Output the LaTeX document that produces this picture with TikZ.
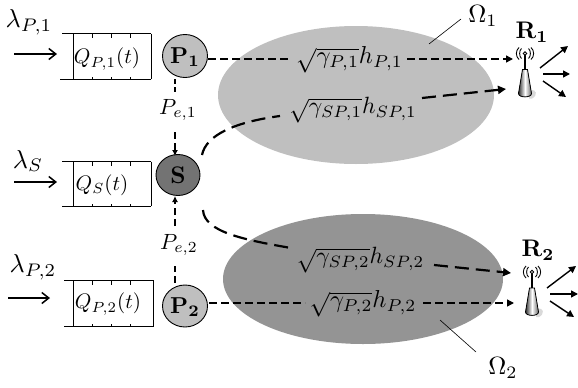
\documentclass[tikz,border=0pt]{standalone}
\usetikzlibrary{arrows.meta,calc}
\newcommand{\antenna}[1]{%
  \begin{scope}[shift={(#1)}]
    \fill[black!15] (5,21) .. controls (12,19) and (13,26) .. (7,29) -- (4,29) -- cycle;
    \draw[line width=1.4pt] (0,-16) -- (0,0);
    \fill[left color=black!80,right color=black!60,middle color=white,draw=black,line width=.8pt]
      (-2.5,0) -- (2.5,0) -- (6.5,24) .. controls (6.5,28.5) and (-6.5,28.5) .. (-6.5,24) -- cycle;
    \fill[white,draw=black,line width=.8pt] (0,-16) circle (1.8);
    \draw[line width=.9pt] (-3.5,-21) .. controls (-6,-19) and (-6,-13) .. (-3.5,-11);
    \draw[line width=.9pt] (3.5,-21) .. controls (6,-19) and (6,-13) .. (3.5,-11);
    \draw[line width=.9pt] (-6,-22) .. controls (-9.5,-19) and (-9.5,-13) .. (-6,-10);
    \draw[line width=.9pt] (6,-22) .. controls (9.5,-19) and (9.5,-13) .. (6,-10);
  \end{scope}}
\newcommand{\queue}[5]{%
  \draw[qline] (#1,#3) -- (#2,#3);
  \draw[qline] (#4,#5) -- (#2,#5);
  \draw[qline] (73,#3) -- (73,#5);
  \draw[qline] (#2,#3) -- (#2,#5);
  \foreach \tx in {92,111,130}{
    \draw[tickline] (\tx,#3) -- ++(0,4);
    \draw[tickline] (\tx,#5) -- ++(0,-2.5);
  }}
\tikzset{
  x=1pt,y=-1pt,
  mathlab/.style={inner sep=0pt,scale=#1/10},
  mathlab/.default=21,
  qline/.style={line width=.9pt},
  tickline/.style={line width=.7pt},
  inarrow/.style={line width=1.5pt,-{Straight Barb[length=7pt,width=11pt,line width=1.5pt]}},
  outarrow/.style={line width=1.4pt,-{Triangle[length=7pt,width=7pt]}},
  thindash/.style={line width=1.4pt,dash pattern=on 8pt off 4pt},
  thickdash/.style={line width=2.2pt,dash pattern=on 14pt off 7pt},
  updash/.style={line width=1.4pt,dash pattern=on 7pt off 4pt,-{Latex[length=6pt,width=6pt]}},
  leader/.style={line width=.6pt},
  tip/.style={-{Triangle[length=7pt,width=7pt]}},
  headtip/.style={line width=2.2pt,-{Triangle[length=8pt,width=8pt]}},
}
\begin{document}
\begin{tikzpicture}
\useasboundingbox (0,0) rectangle (578,388);
% coverage ellipses
\fill[black!25] (356,95) ellipse (138 and 69);
\fill[black!42] (363,279) ellipse (140 and 65);
% queues
\queue{62}{151}{33.5}{60}{79}
\queue{62}{151}{161.5}{62}{206}
\queue{64}{153.5}{280.5}{64}{326}
\node[mathlab] (q1) at (107,59) {$Q_{P,1}(t)$};
\node[mathlab] (qs) at (102,185) {$Q_{S}(t)$};
\node[mathlab] (q2) at (108,304) {$Q_{P,2}(t)$};
% arrival labels
\node[mathlab=26] (l1) at (29,22) {$\lambda_{P,1}$};
\node[mathlab=26] (ls) at (28,161) {$\lambda_{S}$};
\node[mathlab=26] (l2) at (33,267) {$\lambda_{P,2}$};
\coordinate (a1s) at (14,54); \coordinate (a1e) at (57,54);
\coordinate (a2s) at (14,182); \coordinate (a2e) at (57,182);
\coordinate (a3s) at (8,298); \coordinate (a3e) at (50,298);
\draw[inarrow] (a1s) -- (a1e);
\draw[inarrow] (a2s) -- (a2e);
\draw[inarrow] (a3s) -- (a3e);
% nodes
\fill[black!25,draw=black,line width=.9pt] (185,56) ellipse (22.5 and 21.5);
\node[mathlab=23] (p1) at (185,57) {$\mathbf{P_1}$};
\fill[black!55,draw=black,line width=.9pt] (178,175) ellipse (22 and 20.5);
\node[mathlab=24] (s) at (178,175) {$\mathbf{S}$};
\fill[black!25,draw=black,line width=.9pt] (185,306) ellipse (22.5 and 21);
\node[mathlab=23] (p2) at (185,307) {$\mathbf{P_2}$};
% sensing
\node[mathlab=22] (pe1) at (178,110) {$P_{e,1}$};
\node[mathlab=22] (pe2) at (179,245) {$P_{e,2}$};
\coordinate (d1a) at (175,79); \coordinate (d1b) at (175,92);
\coordinate (d1c) at (175,132); \coordinate (d1d) at (175,156);
\draw[line width=1.4pt,dash pattern=on 5pt off 3pt] (d1a) -- (d1b);
\draw[updash] (d1c) -- (d1d);
\coordinate (d2a) at (175,283); \coordinate (d2b) at (175,266);
\coordinate (d2c) at (175,226); \coordinate (d2d) at (175,196);
\draw[line width=1.4pt,dash pattern=on 7pt off 4pt] (d2a) -- (d2b);
\draw[updash] (d2c) -- (d2d);
% link labels
\node[mathlab=24.5] (g1) at (349.5,60) {$\sqrt{\gamma_{P,1}}h_{P,1}$};
\node[mathlab=24.5] (g2) at (363,304) {$\sqrt{\gamma_{P,2}}h_{P,2}$};
\node[mathlab=23.5] (g3) at (353,110) {$\sqrt{\gamma_{SP,1}}h_{SP,1}$};
\node[mathlab=23.5] (g4) at (360.5,260) {$\sqrt{\gamma_{SP,2}}h_{SP,2}$};
% primary links
\coordinate (b1) at (208,59); \coordinate (b2) at (291,59);
\coordinate (b3) at (407,59); \coordinate (b4) at (513,59);
\draw[thindash] (b1) -- (b2);
\draw[thindash,tip] (b3) -- (b4);
\coordinate (c1) at (209,303); \coordinate (c2) at (305,303);
\coordinate (c3) at (423,303); \coordinate (c4) at (514,303);
\draw[thindash] (c1) -- (c2);
\draw[thindash,tip] (c3) -- (c4);
% secondary links
\coordinate (e1) at (202,155); \coordinate (e2) at (280,116);
\coordinate (e3) at (422,98); \coordinate (e4) at (506,89);
\draw[thickdash] (e1) .. controls (206,135) and (235,122) .. (e2);
\draw[thickdash] (e3) -- ($(e3)!0.82!(e4)$);
\draw[headtip] ($(e3)!0.82!(e4)$) -- (e4);
\coordinate (f1) at (203,210); \coordinate (f2) at (291,248);
\coordinate (f3) at (434,265); \coordinate (f4) at (511,273);
\draw[thickdash] (f1) .. controls (204,232) and (245,240) .. (f2);
\draw[thickdash] (f3) -- ($(f3)!0.82!(f4)$);
\draw[headtip] ($(f3)!0.82!(f4)$) -- (f4);
% receivers
\antenna{525,69.5}
\antenna{532,288}
\node[mathlab=24] (r1) at (532,32) {$\mathbf{R_1}$};
\node[mathlab=24] (r2) at (538,250) {$\mathbf{R_2}$};
\coordinate (u1) at (540,68); \coordinate (u2) at (568,46);
\coordinate (u3) at (543,74); \coordinate (u4) at (570,74);
\coordinate (u5) at (543,81); \coordinate (u6) at (566,97);
\draw[outarrow] (u1) -- (u2);
\draw[outarrow] (u3) -- (u4);
\draw[outarrow] (u5) -- (u6);
\coordinate (v1) at (547,288); \coordinate (v2) at (576,266);
\coordinate (v3) at (550,294); \coordinate (v4) at (578,294);
\coordinate (v5) at (550,301); \coordinate (v6) at (574,317);
\draw[outarrow] (v1) -- (v2);
\draw[outarrow] (v3) -- (v4);
\draw[outarrow] (v5) -- (v6);
% region labels
\node[mathlab=25] (o1) at (483,16) {$\Omega_1$};
\node[mathlab=25] (o2) at (503,368) {$\Omega_2$};
\coordinate (lo1) at (429,44); \coordinate (lo1b) at (461,19);
\coordinate (lo2) at (440,320); \coordinate (lo2b) at (476,352);
\draw[leader] (lo1b) -- (lo1);
\draw[leader] (lo2b) -- (lo2);
\end{tikzpicture}
\end{document}
